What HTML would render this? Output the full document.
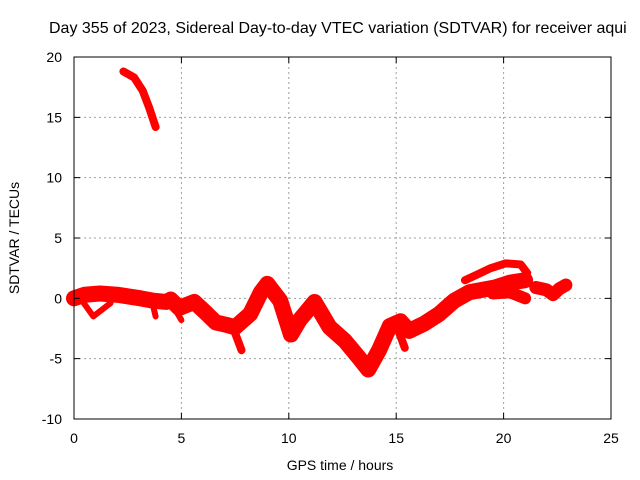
<!DOCTYPE html>
<html><head><meta charset="utf-8"><style>
body{margin:0;background:#fff}
svg{display:block;font-family:"Liberation Sans",sans-serif;font-size:14px}
</style></head><body>
<svg id="chart" width="640" height="480">
<text x="49" y="33" font-size="16">Day 355 of 2023, Sidereal Day-to-day VTEC variation (SDTVAR) for receiver aqui</text>
<g id="grid"></g>
<g id="series"></g>
<rect x="74" y="57" width="537" height="362" fill="none" stroke="#000" stroke-width="1"/>
<g id="ticks"></g>
<text x="340" y="470" text-anchor="middle">GPS time / hours</text>
<text transform="translate(19,238) rotate(-90)" text-anchor="middle">SDTVAR / TECUs</text>
</svg>
<script>
const xTicks=[0,5,10,15,20,25];
const yTicks=[-10,-5,0,5,10,15,20];
const mainHours=[0,0.5,1.2,2,3.1,3.7,4.3,4.5,4.9,5.6,6.2,6.6,7.1,7.5,8.2,8.7,9,9.6,10.1,10.5,11.2,11.9,12.6,13.3,13.7,14.2,14.7,15.2,15.6,16.3,17,17.7,18.4,19.6,20.3,21];
const mainValues=[0,0.3,0.4,0.3,0,-0.2,-0.3,-0.1,-0.8,-0.3,-1.3,-2,-2.2,-2.4,-1.3,0.5,1.2,-0.2,-3.0,-1.8,-0.3,-2.4,-3.5,-5.0,-5.9,-4.3,-2.3,-1.9,-2.7,-2.1,-1.3,-0.2,0.5,0.9,1.3,1.5];
const upperHours=[18.2,18.8,19.4,20.1,20.8,21.1];
const upperValues=[1.5,2,2.5,2.9,2.8,2.1];
const lateHours=[19.5,20.3,21];
const lateValues=[0.4,0.5,0];
const rightHours=[21.5,22,22.3,22.6,22.9];
const rightValues=[0.9,0.7,0.3,0.8,1.1];
const topHours=[2.3,2.8,3.2,3.5,3.8];
const topValues=[18.8,18.3,17.2,15.8,14.2];
const branch1Hours=[0.3,0.9,1.7];
const branch1Values=[0,-1.5,-0.4];
const branch2Hours=[3.6,3.8];
const branch2Values=[0,-1.5];
const branch3Hours=[4.5,5];
const branch3Values=[-0.3,-1.8];
const branch4Hours=[7.4,7.8];
const branch4Values=[-2.4,-4.3];
const branch5Hours=[15,15.4];
const branch5Values=[-2.2,-4.1];
const x0=74,x1=611,y0=419,y1=57;
const X=h=>x0+(h-0)/(25-0)*(x1-x0);
const Y=v=>y0-(v+10)/(30)*(y0-y1);
const NS="http://www.w3.org/2000/svg";
const grid=document.getElementById('grid'),ticks=document.getElementById('ticks'),series=document.getElementById('series');
xTicks.forEach(t=>{
 const x=X(t);
 if(t>0&&t<25){const l=document.createElementNS(NS,'line');
 l.setAttribute('x1',x);l.setAttribute('x2',x);l.setAttribute('y1',y1);l.setAttribute('y2',y0);
 l.setAttribute('stroke','#a0a0a0');l.setAttribute('stroke-dasharray','2,3');
 
 
 grid.appendChild(l);}
 const tk=document.createElementNS(NS,'path');
 tk.setAttribute('d',`M${x},${y0}v-6M${x},${y1}v6`);tk.setAttribute('stroke','#000');
 
 
 ticks.appendChild(tk);
 const tx=document.createElementNS(NS,'text');
 tx.setAttribute('x',x);tx.setAttribute('y',443);tx.setAttribute('text-anchor','middle');tx.textContent=t;
 
 
 ticks.appendChild(tx);
});
yTicks.forEach(t=>{
 const y=Y(t);
 if(t>-10&&t<20){const l=document.createElementNS(NS,'line');
 l.setAttribute('x1',x0);l.setAttribute('x2',x1);l.setAttribute('y1',y);l.setAttribute('y2',y);
 l.setAttribute('stroke','#a0a0a0');l.setAttribute('stroke-dasharray','2,3');
 
 
 grid.appendChild(l);}
 const tk=document.createElementNS(NS,'path');
 tk.setAttribute('d',`M${x0},${y}h6M${x1},${y}h-6`);tk.setAttribute('stroke','#000');
 
 
 ticks.appendChild(tk);
 const tx=document.createElementNS(NS,'text');
 tx.setAttribute('x',62);tx.setAttribute('y',y+5);tx.setAttribute('text-anchor','end');tx.textContent=t;
 
 
 ticks.appendChild(tx);
});
function draw(hs,vs,w,name){
 const p=document.createElementNS(NS,'polyline');
 p.setAttribute('points',hs.map((h,i)=>X(h)+','+Y(vs[i])).join(' '));
 p.setAttribute('fill','none');p.setAttribute('stroke','#ff0000');p.setAttribute('stroke-width',w);
 p.setAttribute('stroke-linejoin','round');p.setAttribute('stroke-linecap','round');
 
 
 series.appendChild(p);
}
draw(mainHours,mainValues,16,'sdtvar-main-band');
draw(upperHours,upperValues,8,'sdtvar-upper-arc');
draw(lateHours,lateValues,12,'sdtvar-late-branch');
draw(rightHours,rightValues,13,'sdtvar-right-cluster');
draw(topHours,topValues,8,'sdtvar-top-segment');
draw(branch1Hours,branch1Values,6,'sdtvar-branch');
draw(branch2Hours,branch2Values,6,'sdtvar-branch');
draw(branch3Hours,branch3Values,6,'sdtvar-branch');
draw(branch4Hours,branch4Values,8,'sdtvar-branch');
draw(branch5Hours,branch5Values,8,'sdtvar-branch');
</script>
</body></html>
